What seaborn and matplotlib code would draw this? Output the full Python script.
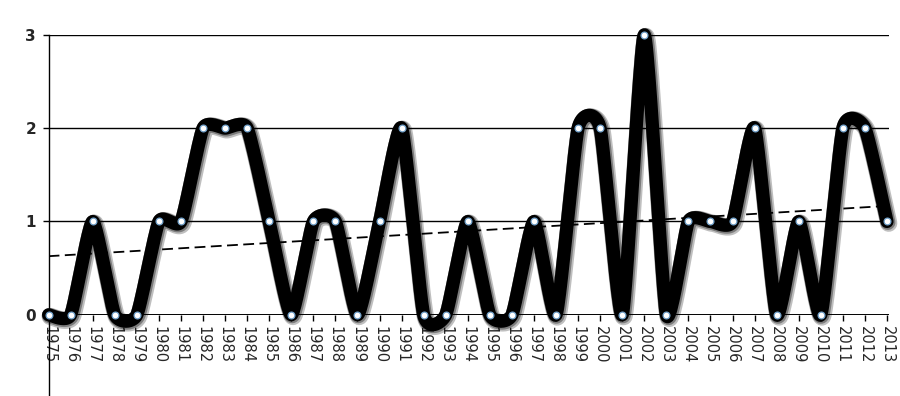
import numpy as np
import pandas as pd
import matplotlib
matplotlib.use("Agg")
import matplotlib.pyplot as plt
import matplotlib.patheffects as pe
import seaborn as sns

years = list(range(1975, 2014))
values = [0, 0, 1, 0, 0, 1, 1, 2, 2, 2,
          1, 0, 1, 1, 0, 1, 2, 0, 0, 1,
          0, 0, 1, 0, 2, 2, 0, 3, 0, 1,
          1, 1, 2, 0, 1, 0, 2, 2, 1]
y_ticks = [0, 1, 2, 3]

sns.set_theme(style="white")
plt.rcParams['font.family'] = ['DejaVu Sans']

df = pd.DataFrame({"year": years, "value": values})

# Excel-style smoothed line (Bezier through the data points)
def smooth(xs, ys, n=24, k=0.55 / 6):
    xs = np.asarray(xs, float); ys = np.asarray(ys, float)
    px = np.concatenate([[xs[0]], xs, [xs[-1]]])
    py = np.concatenate([[ys[0]], ys, [ys[-1]]])
    ox, oy = [], []
    for i in range(1, len(px) - 2):
        t = np.linspace(0, 1, n, endpoint=False)
        b0x, b0y = px[i], py[i]
        b3x, b3y = px[i + 1], py[i + 1]
        b1x = b0x + (px[i + 1] - px[i - 1]) * k
        b1y = b0y + (py[i + 1] - py[i - 1]) * k
        b2x = b3x - (px[i + 2] - px[i]) * k
        b2y = b3y - (py[i + 2] - py[i]) * k
        ox.append((1 - t) ** 3 * b0x + 3 * (1 - t) ** 2 * t * b1x + 3 * (1 - t) * t ** 2 * b2x + t ** 3 * b3x)
        oy.append((1 - t) ** 3 * b0y + 3 * (1 - t) ** 2 * t * b1y + 3 * (1 - t) * t ** 2 * b2y + t ** 3 * b3y)
    ox.append([xs[-1]]); oy.append([ys[-1]])
    return np.concatenate(ox), np.concatenate(oy)

fig = plt.figure(figsize=(9, 3.96), dpi=100)
ax = fig.add_axes([0.054, 0.205, 0.934, 0.707])

for yv in y_ticks:
    ax.axhline(yv, color="black", lw=1.0 if yv else 1.4, zorder=1)

sx, sy = smooth(df["year"], df["value"])
ax.plot(sx, sy, color="black", lw=9.5, solid_capstyle="round", zorder=3, clip_on=False,
        path_effects=[pe.SimpleLineShadow(offset=(1.2, -1.2), shadow_color="black",
                                          alpha=0.25, linewidth=12.5),
                      pe.SimpleLineShadow(offset=(0.6, -0.6), shadow_color="black",
                                          alpha=0.35, linewidth=11),
                      pe.Normal()])

# linear trend
coef = np.polyfit(df["year"], df["value"], 1)
trend = pd.DataFrame({"year": [years[0], years[-1]],
                      "value": np.polyval(coef, [years[0], years[-1]])})
sns.lineplot(data=trend, x="year", y="value", ax=ax, color="black", lw=1.3,
             linestyle=(0, (6, 3)), zorder=2)

sns.scatterplot(data=df, x="year", y="value", ax=ax, s=24, color="white",
                edgecolor="#6f9fc8", linewidth=0.9, zorder=4, clip_on=False)

ax.set_xlim(1975, 2013.1)
ax.set_ylim(0, 3)
ax.set_xticks(years)
ax.set_xticklabels([str(y) for y in years], rotation=270, fontsize=10.5)
ax.set_yticks(y_ticks)
ax.set_yticklabels([str(v) for v in y_ticks], fontsize=11, fontweight="bold")
ax.tick_params(axis="both", direction="out", length=4, width=1, color="black",
               bottom=True, left=True)
ax.tick_params(axis="x", pad=4)
ax.tick_params(axis="y", pad=5)
ax.set_xlabel("")
ax.set_ylabel("")

for s in ["top", "right"]:
    ax.spines[s].set_visible(False)
ax.spines["bottom"].set_visible(False)
ax.spines["left"].set_color("black")
ax.spines["left"].set_linewidth(1.0)
ax.spines["left"].set_bounds(-1.35, 3)

fig.savefig("out.png", dpi=100, facecolor="white")
